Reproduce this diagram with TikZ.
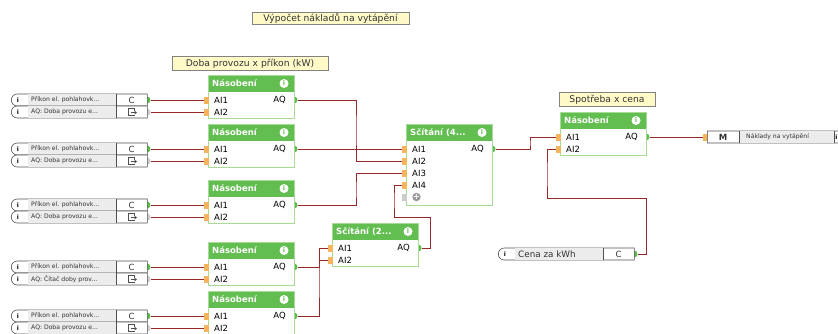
\documentclass[tikz,border=0pt]{standalone}
\usepackage{fontspec}
\setmainfont{DejaVu Sans}
\usetikzlibrary{arrows.meta, calc, shapes.misc}

\definecolor{hdrgreen}{RGB}{98,190,80}
\definecolor{blkline}{RGB}{166,220,150}
\definecolor{pingreen}{RGB}{93,190,76}
\definecolor{pingray}{RGB}{205,205,205}
\definecolor{pinorange}{RGB}{246,180,92}
\definecolor{wirered}{RGB}{150,40,40}
\definecolor{prmgray}{RGB}{236,236,236}
\definecolor{prmline}{RGB}{80,80,80}
\definecolor{noteyellow}{RGB}{255,250,200}
\definecolor{notegray}{RGB}{130,130,130}

\tikzset{
  % function block: #1 title, #2 width, #3 inputs, #4 height
  pics/fblk/.style n args={4}{code={
    \fill[pingreen] (#2,25) circle (3.5pt);
    \fill[white] (0,0) rectangle (#2,#4);
    \fill[hdrgreen] (0,0) rectangle (#2,17);
    \draw[blkline, line width=0.8pt] (0,0) rectangle (#2,#4);
    \node[ftitle] (-title) at (4,8.5) {#1};
    \node[info] (-info) at (#2-10,8.5) {i};
    \foreach \k in {1,...,#3}{
      \fill[pinorange] (-4,9.5+12*\k) rectangle (0.5,16.5+12*\k);
      \node[pinlbl] (-l\k) at (6,13+12*\k) {AI\k};
      \coordinate (-i\k) at (-4,13+12*\k);
    }
    \node[pinlbl, anchor=east] (-lq) at (#2-8,25) {AQ};
    \coordinate (-q) at (#2+3.5,25);
  }},
  % parameter row: #1 label, #2 value, #3 pin colour
  pics/prm/.style n args={3}{code={
    \fill[#3] (136,0) circle (3.5pt);
    \node[prmbox] (-box) at (0,0) {};
    \fill[prmgray] (17,-5.6) rectangle (105,5.6);
    \draw[prmline, line width=0.6pt] (105,-6) -- (105,6);
    \node[ibadge] (-i) at (7,0) {i};
    \node[prmtext] (-lbl) at (20,0) {#1};
    \node[prmval] (-val) at (120.5,0) {#2};
    \coordinate (-q) at (139.5,0);
  }},
  % output icon
  pics/outico/.style={code={
    \draw[prmline, line width=0.8pt] (2.5,-1.5) -- (2.5,-3.5) -- (-3.5,-3.5) -- (-3.5,3.5) -- (2.5,3.5) -- (2.5,2.5);
    \draw[prmline, line width=0.8pt] (-1,0.5) -- (3.5,0.5);
    \fill[prmline] (3,-1.5) -- (5.5,0.5) -- (3,2.5) -- cycle;
  }},
}

\begin{document}
\begin{tikzpicture}[
    x=1pt, y=-1pt,
    wire/.style={draw=wirered, line width=1pt},
    ftitle/.style={font=\bfseries\fontsize{8.5}{10}\selectfont, text=white, anchor=west, inner sep=0},
    pinlbl/.style={font=\fontsize{8.5}{10}\selectfont, anchor=west, inner sep=0},
    info/.style={circle, fill=white, inner sep=0, minimum size=9pt, font=\bfseries\fontsize{6.5}{7}\selectfont, text=hdrgreen},
    prmbox/.style={rounded rectangle, rounded rectangle right arc=none, draw=prmline, line width=0.6pt, fill=white, minimum width=136pt, minimum height=12pt, inner sep=0, anchor=west},
    prmtext/.style={font=\fontsize{6.1}{7}\selectfont, text=black!80, anchor=west, inner sep=0},
    prmval/.style={font=\fontsize{8.5}{10}\selectfont, text=black!80, inner sep=0},
    ibadge/.style={font=\bfseries\fontsize{6}{7}\selectfont, inner sep=0},
    note/.style={draw=notegray, fill=noteyellow, font=\fontsize{9.2}{10}\selectfont, text=black!80, inner sep=0},
]
\useasboundingbox (0,0) rectangle (838,333);
\clip (0,0) rectangle (838,333);

% ── Notes ──
\node[note, minimum width=157pt, minimum height=12pt] (tHead) at (330.5,18.5) {Výpočet nákladů na vytápění};
\node[note, minimum width=156pt, minimum height=14pt] (tDoba) at (250,63.5) {Doba provozu x příkon (kW)};
\node[note, minimum width=96pt, minimum height=14pt] (tSpot) at (607,99.5) {Spotřeba x cena};

% ── Násobení blocks with their parameters ──
\foreach \n/\y/\lbl in {1/75/{AQ: Doba provozu e...}, 2/124/{AQ: Doba provozu e...},
    3/180/{AQ: Doba provozu e...}, 4/242/{AQ: Čítač doby prov...}, 5/291/{AQ: Doba provozu e...}}{
  \pic (N\n) at (208,\y) {fblk={Násobení}{86}{2}{43}};
  \pic (Pa\n) at (11,\y+25) {prm={Příkon el. pohlahovk...}{C}{pingreen}};
  \pic (Pb\n) at (11,\y+37) {prm={\lbl}{}{pingray}};
  \pic (Ob\n) at (Pb\n-val) {outico};
  \draw[wire] (Pa\n-q) -- (N\n-i1);
  \draw[wire] (Pb\n-q) -- (N\n-i2);
}

% ── Sčítání blocks ──
\pic (S4) at (406,124) {fblk={Sčítání (4...}{86}{4}{81}};
\fill[pingray] (402,193.5) rectangle (406.5,200.5);
\node[circle, fill=black!40, inner sep=0, minimum size=8pt, text=white,
      font=\bfseries\fontsize{8}{8}\selectfont] (S4-plus) at (416.5,197) {+};
\pic (S2) at (332,223) {fblk={Sčítání (2...}{86}{2}{43}};

% ── Spotřeba x cena ──
\pic (Sp) at (560,112) {fblk={Násobení}{86}{2}{43}};
\pic (Cena) at (498,254) {prm={\fontsize{8.8}{10}\selectfont Cena za kWh}{C}{pingreen}};

% ── Output ──
\fill[pinorange] (703,133.5) rectangle (707.5,140.5);
\node[rounded rectangle, rounded rectangle left arc=none, draw=prmline, line width=0.6pt, fill=white,
      minimum width=140pt, minimum height=12pt, inner sep=0, anchor=west] (Mout) at (707,137) {};
\fill[prmgray] (739,131.4) rectangle (834,142.6);
\draw[prmline, line width=0.6pt] (739,131) -- (739,143);
\draw[prmline, line width=0.6pt] (834,131) -- (834,143);
\node[font=\bfseries\fontsize{8.5}{10}\selectfont, text=black!80] (Mval) at (723,137) {M};
\node[prmtext] (Mlbl) at (746,137) {Náklady na vytápění};
\node[ibadge] (Mi) at (836.3,137) {i};
\coordinate (Min) at (703,137);

% ── Connectors ──
\coordinate (j1) at (356,130);
\coordinate (j2) at (356,190);
\coordinate (j3) at (430,217);
\coordinate (j4) at (394,200);
\coordinate (j5) at (319,263);
\coordinate (j6) at (319,280);
\coordinate (j7) at (530,143);
\coordinate (j8) at (646,198);
\coordinate (j9) at (547,175);

\draw[wire] (N1-q) -| (j1) |- (S4-i2);
\draw[wire] (N2-q) -- (S4-i1);
\draw[wire] (N3-q) -| (j2) |- (S4-i3);
\draw[wire] (S2-q) -| (j3) -| (j4) |- (S4-i4);
\draw[wire] (N4-q) -| (j5) |- (S2-i2);
\draw[wire] (N5-q) -| (j6) |- (S2-i1);
\draw[wire] (S4-q) -| (j7) |- (Sp-i1);
\draw[wire] (Cena-q) -| (j8) -| (j9) |- (Sp-i2);
\draw[wire] (Sp-q) -- (Min);

\end{tikzpicture}
\end{document}
